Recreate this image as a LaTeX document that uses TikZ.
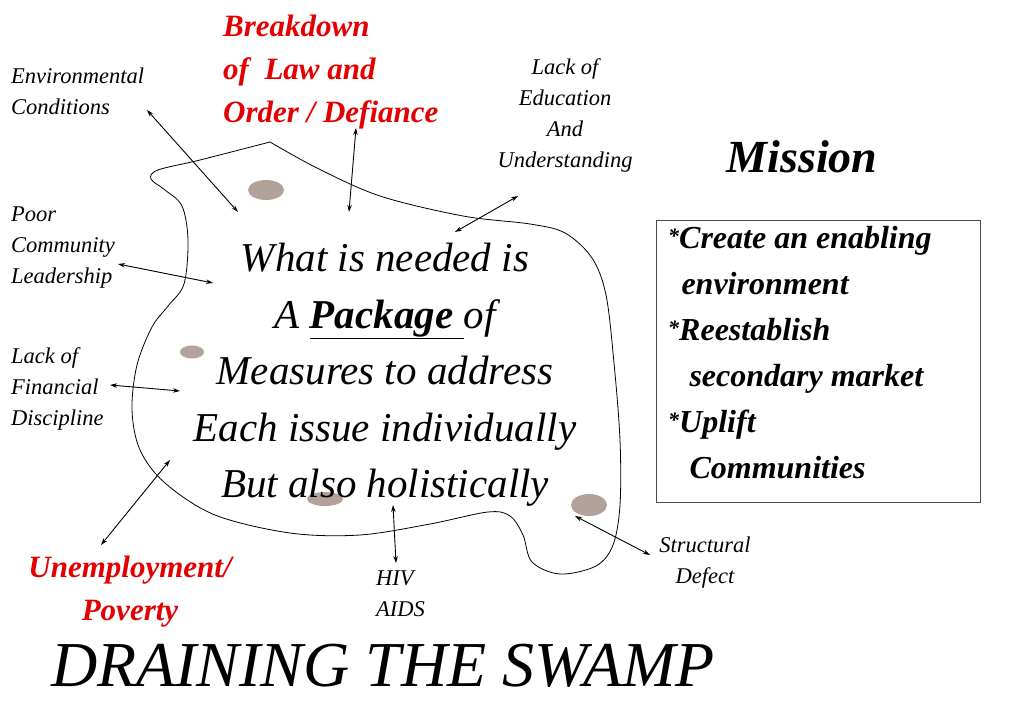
\documentclass[tikz,border=0pt]{standalone}
\usepackage{fontspec}
\setmainfont{Liberation Serif}
\usetikzlibrary{arrows.meta}
\definecolor{swred}{RGB}{228,0,0}
\definecolor{dotc}{RGB}{178,162,156}
\newcommand{\mystar}{{\fontsize{22}{22}\selectfont\raisebox{0.5ex}{*}}}
\begin{document}
\begin{tikzpicture}[x=1pt,y=-1pt,
  lbl/.style={font=\fontsize{22.5}{31}\selectfont\itshape, inner sep=0pt},
  redlbl/.style={font=\fontsize{31}{43}\selectfont\bfseries\itshape, text=swred, inner sep=0pt},
  mid/.style={font=\fontsize{41}{56.5}\selectfont\itshape, inner sep=0pt, align=center},
  boxtxt/.style={font=\fontsize{32}{46}\selectfont\bfseries\itshape, inner sep=0pt, align=left},
  link/.style={{Stealth[length=7pt,width=4.5pt]}-{Stealth[length=7pt,width=4.5pt]}, line width=0.9pt},
  spot/.style={fill=dotc, draw=none},
  swamp/.style={draw, line width=0.8pt}]
\useasboundingbox (0,0) rectangle (1023,708);
\fill[white] (0,0) rectangle (1023,708);

% swamp outline
\draw[swamp] plot[smooth, tension=0.55] coordinates {
 (270,142) (317,168) (380,196) (463,216) (530,224) (565,233) (592,258)
 (606,295) (614,363) (620,440) (620,505) (613,545) (596,566) (560,574)
 (532,562) (523,535) (510,516) (488,512) (430,524) (360,535) (290,533)
 (215,515) (165,483) (140,450) (132,410) (137,365) (152,327) (168,306)
 (184,284) (188,240) (182,206) (165,190) (151,179) (158,170) (200,160) (270,142)};

% spots
\fill[spot] (266,190) ellipse [x radius=18pt, y radius=10pt];
\fill[spot] (192,352) ellipse [x radius=12pt, y radius=6.5pt];
\fill[spot] (325,499) ellipse [x radius=18pt, y radius=7pt];
\fill[spot] (589,505) ellipse [x radius=18pt, y radius=11pt];

% labels
\node[lbl, anchor=west, align=left] (env) at (11,91) {Environmental\\Conditions};
\node[redlbl, anchor=west, align=left] (law) at (223,72) {Breakdown\\of\ \ Law and\\Order / Defiance};
\node[lbl, align=center] (edu) at (565,115) {Lack of\\Education\\And\\Understanding};
\node[font=\fontsize{46}{52}\selectfont\bfseries\itshape, inner sep=0pt] (mission) at (802,157) {Mission};
\node[lbl, anchor=west, align=left] (poor) at (11,248) {Poor\\Community\\Leadership};
\node[lbl, anchor=west, align=left] (fin) at (11,389) {Lack of\\Financial\\Discipline};
\node[redlbl, align=center] (unemp) at (130,592) {Unemployment/\\Poverty};
\node[lbl, anchor=west, align=left] (hiv) at (376,594) {HIV\\AIDS};
\node[lbl, align=center] (struct) at (705,563) {Structural\\Defect};
\node[font=\fontsize{64}{70}\selectfont\itshape, inner sep=0pt] (title) at (383,666) {DRAINING THE SWAMP};

% central text
\node[mid] (centre) at (385,375) {What is needed is\\A \underline{\textbf{Package}~}of\\Measures to address\\Each issue individually\\But also holistically};

% mission box
\draw[line width=0.8pt, draw=black!70] (656,220) rectangle (980,502);
\node[boxtxt, anchor=north west] (goals) at (668,226) {\mystar Create an enabling\\\ \,environment\\\mystar Reestablish\\\ \ \,secondary market\\\mystar Uplift\\\ \ \,Communities};

% arrow ends inside the swamp
\coordinate (eEnv) at (238,212);
\coordinate (eLaw) at (349,212);
\coordinate (eEdu) at (455,232);
\coordinate (ePoor) at (213,283);
\coordinate (eFin) at (180,391);
\coordinate (eUnemp) at (170,460);
\coordinate (eHiv) at (393,505);
\coordinate (eStr) at (575,516);
\coordinate (sEnv) at (147,110);
\coordinate (sLaw) at (356,128);
\coordinate (sEdu) at (518,196);
\coordinate (sPoor) at (118,264);
\coordinate (sFin) at (110,385);
\coordinate (sUnemp) at (101,545);
\coordinate (sHiv) at (396,563);
\coordinate (sStr) at (650,555);

\draw[link] (sEnv) -- (eEnv);
\draw[link] (sLaw) -- (eLaw);
\draw[link] (sEdu) -- (eEdu);
\draw[link] (sPoor) -- (ePoor);
\draw[link] (sFin) -- (eFin);
\draw[link] (sUnemp) -- (eUnemp);
\draw[link] (sHiv) -- (eHiv);
\draw[link] (sStr) -- (eStr);
\end{tikzpicture}
\end{document}
